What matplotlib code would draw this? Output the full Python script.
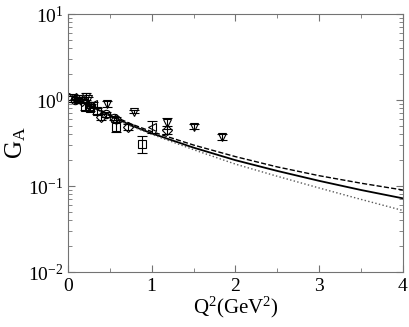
import matplotlib
matplotlib.use('Agg')
import matplotlib.pyplot as plt
from matplotlib.ticker import LogLocator, MultipleLocator, NullFormatter

plt.rcParams['font.family'] = ['Liberation Serif', 'DejaVu Serif']
plt.rcParams['mathtext.fontset'] = 'custom'
plt.rcParams['mathtext.rm'] = 'Liberation Serif'
plt.rcParams['mathtext.it'] = 'Liberation Serif:italic'

# model curves
q2 = [0, 0.25, 0.5, 0.75, 1, 1.5, 2, 2.5, 3, 3.5, 4]
ga_solid = [1.20, 0.87, 0.66, 0.51, 0.41, 0.28, 0.20, 0.150, 0.115, 0.090, 0.072]
ga_dash = [1.20, 0.88, 0.68, 0.53, 0.43, 0.30, 0.22, 0.167, 0.132, 0.108, 0.090]
ga_dot = [1.20, 0.86, 0.65, 0.50, 0.40, 0.265, 0.18, 0.130, 0.095, 0.070, 0.052]

# data sets
tri_x = [0.22, 0.24, 0.47, 0.79, 1.18, 1.50, 1.84]
tri_y = [1.10, 1.02, 0.90, 0.73, 0.54, 0.49, 0.37]
tri_e = [0.10, 0.08, 0.08, 0.03, 0.08, 0.03, 0.03]

sq_x = [0.05, 0.12, 0.20, 0.26, 0.35, 0.58, 0.88]
sq_y = [1.05, 1.02, 0.84, 0.80, 0.75, 0.49, 0.31]
sq_e = [0.06, 0.05, 0.08, 0.06, 0.06, 0.07, 0.07]

dia_x = [0.10, 0.17, 0.40, 0.58, 0.72, 1.18]
dia_y = [1.05, 0.98, 0.64, 0.60, 0.49, 0.45]
dia_e = [0.04, 0.04, 0.05, 0.04, 0.04, 0.05]

circ_x = [0.08, 0.28, 0.45, 0.55]
circ_y = [1.00, 0.85, 0.68, 0.62]
circ_e = [0.04, 0.05, 0.05, 0.04]

lt_x = [0.30, 1.00]
lt_y = [0.90, 0.49]
lt_e = [0.06, 0.08]

fig = plt.figure(figsize=(4.09, 3.27), dpi=100)
ax = fig.add_axes([0.166, 0.168, 0.819, 0.789])

ax.plot(q2, ga_dash, color='black', ls='--', lw=1.0)
ax.plot(q2, ga_solid, color='black', ls='-', lw=1.3)
ax.plot(q2, ga_dot, color='0.35', ls=':', lw=1.0)

kw = dict(ls='none', mfc='none', mec='black', ecolor='black', ms=6,
          mew=0.8, elinewidth=0.8, capsize=3.5)
ax.errorbar(tri_x, tri_y, yerr=tri_e, marker='v', **kw)
ax.errorbar(sq_x, sq_y, yerr=sq_e, marker='s', **kw)
ax.errorbar(dia_x, dia_y, yerr=dia_e, marker='D', **{**kw, 'ms': 5})
ax.errorbar(circ_x, circ_y, yerr=circ_e, marker='o', **kw)
ax.errorbar(lt_x, lt_y, yerr=lt_e, marker='<', **kw)

ax.set_yscale('log')
ax.set_xlim(0, 4)
ax.set_ylim(0.01, 10)
ax.xaxis.set_major_locator(MultipleLocator(1))
ax.xaxis.set_minor_locator(MultipleLocator(0.5))
ax.yaxis.set_major_locator(LogLocator(base=10))
ax.yaxis.set_minor_locator(LogLocator(base=10, subs=range(2, 10)))
ax.yaxis.set_minor_formatter(NullFormatter())

for s in ax.spines.values():
    s.set_color('0.45')
ax.tick_params(which='both', direction='in', top=True, right=True, color='0.45',
               labelsize=14)
ax.tick_params(axis='x', which='major', length=5, pad=4)
ax.tick_params(axis='y', which='major', length=5, pad=3)
ax.tick_params(which='minor', length=3)

ax.set_xlabel('Q$^2$(GeV$^2$)', fontsize=15, labelpad=0)
ax.set_ylabel('G$_\\mathrm{A}$', fontsize=18)
ax.yaxis.set_label_coords(-0.118, 0.5)

fig.savefig('out.png', dpi=100)
